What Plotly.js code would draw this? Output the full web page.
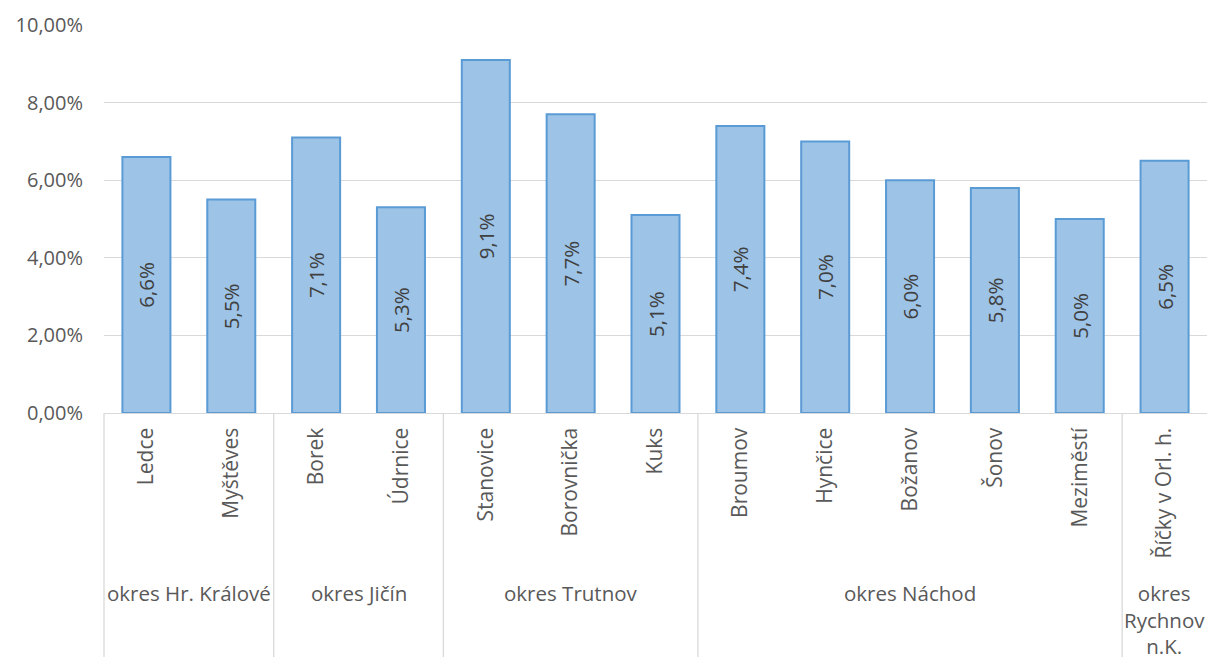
<!DOCTYPE html>
<html>
<head>
<meta charset="utf-8">
<script src="https://cdn.plot.ly/plotly-3.0.1.min.js"></script>
<style>html,body{margin:0;padding:0;background:#fff;}#chart{width:1207px;height:657px;}</style>
</head>
<body>
<div id="chart"></div>
<script>
const categories = ['Ledce','Myštěves','Borek','Údrnice','Stanovice','Borovnička','Kuks','Broumov','Hynčice','Božanov','Šonov','Meziměstí','Říčky v Orl. h.'];
const groups = ['okres Hr. Králové','okres Hr. Králové','okres Jičín','okres Jičín','okres Trutnov','okres Trutnov','okres Trutnov','okres Náchod','okres Náchod','okres Náchod','okres Náchod','okres Náchod','okres Rychnov<br>n.K.'];
const groupDisplay = {'okres Rychnov<br>n.K.':'okres<br>Rychnov<br>n.K.'};
const values = [0.066,0.055,0.071,0.053,0.091,0.077,0.051,0.074,0.070,0.060,0.058,0.050,0.065];
const yTicks = [0,0.02,0.04,0.06,0.08,0.10];

const W = 1207, H = 657;
const mL = 104, mR = 0, mT = 25, mB = 244;
const plotH = H - mT - mB;
const n = categories.length;
const font = 'Open Sans, sans-serif';
const grey = '#d9d9d9';

// group spans
const spans = [];
groups.forEach((g, i) => {
  if (spans.length && spans[spans.length-1].name === g) spans[spans.length-1].end = i;
  else spans.push({name: g, start: i, end: i});
});

const shapes = [];
const annotations = [];
const yBottom = -(H - mT - plotH) / plotH - 0.05;
const boundaries = [spans[0].start - 0.5].concat(spans.map(s => s.end + 0.5));
boundaries.forEach(b => {
  const xp = (b + 0.5) / n;
  if (xp > 0.999) return;
  shapes.push({type:'line', xref:'paper', yref:'paper', x0:xp, x1:xp, y0:0, y1:yBottom, line:{color:grey, width:1.3}});
});
spans.forEach(s => {
  const c = (s.start + s.end) / 2;
  annotations.push({
    xref:'paper', yref:'paper', x:(c + 0.5)/n, y:-(577 - (mT+plotH))/plotH,
    xanchor:'center', yanchor:'top', showarrow:false,
    text: groupDisplay[s.name] || s.name,
    font:{family:font, size:20.5, color:'#595959'}
  });
});

const trace = {
  type:'bar', x:categories, y:values,
  marker:{color:'#9dc3e6', line:{color:'#5b9bd5', width:2}},
  texttemplate:'%{y:.1%}', textposition:'inside', insidetextanchor:'middle', textangle:-90,
  textfont:{family:font, size:20.5, color:'#404040'},
  constraintext:'none',
  hoverinfo:'none'
};

const layout = {
  width:W, height:H,
  margin:{l:mL, r:mR, t:mT, b:mB, autoexpand:false},
  paper_bgcolor:'#fff', plot_bgcolor:'#fff',
  separators:', ',
  bargap:0.434,
  showlegend:false,
  font:{family:font, size:20, color:'#595959'},
  xaxis:{type:'category', tickangle:-90, showgrid:false, showline:true, linecolor:grey, linewidth:1.3,
    ticks:'', ticklabelstandoff:5, tickfont:{family:font, size:21, color:'#595959'}, automargin:false, range:[-0.5, n-0.5], fixedrange:true},
  yaxis:{range:[0,0.1], tickvals:yTicks, tickformat:'.2%', showgrid:true, gridcolor:grey, gridwidth:1.3,
    zeroline:false, showline:false, ticks:'', ticklabelstandoff:20,
    tickfont:{family:font, size:20, color:'#595959'}, automargin:false, fixedrange:true},
  shapes:shapes,
  annotations:annotations
};

Plotly.newPlot('chart', [trace], layout, {displayModeBar:false, staticPlot:true});
</script>
</body>
</html>
